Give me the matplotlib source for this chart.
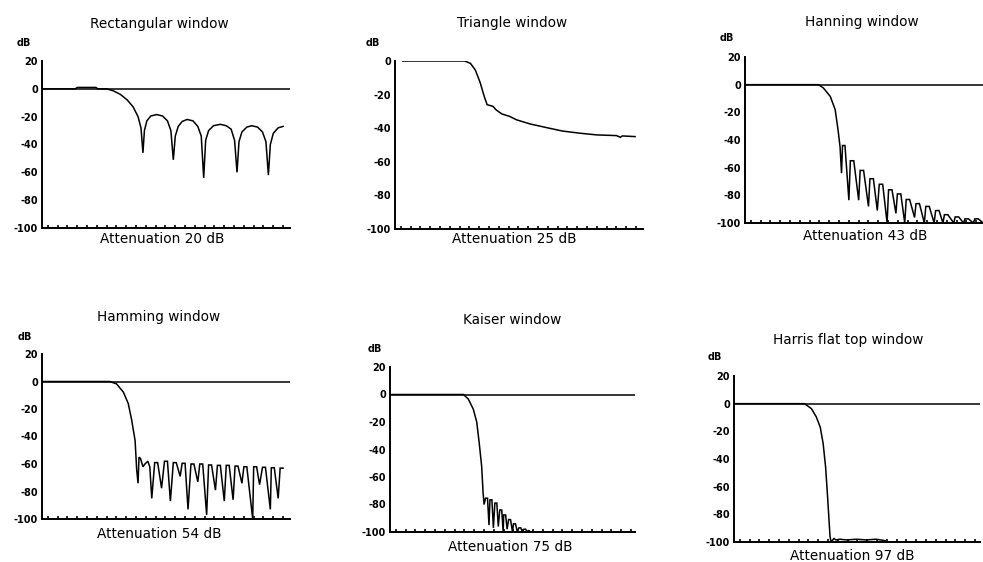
#!/usr/bin/env python3
"""Magnitude response (dB) of six FIR window types, drawn as a 2x3 grid of panels."""

import matplotlib

matplotlib.use("Agg")
import matplotlib.pyplot as plt
import numpy as np

plt.rcParams["axes.unicode_minus"] = False

# --- data (x in tick units along the frequency axis, y in dB) ---

TITLES = [
    "Rectangular window",
    "Triangle window",
    "Hanning window",
    "Hamming window",
    "Kaiser window",
    "Harris flat top window",
]
ATTENUATION_DB = [20, 25, 43, 54, 75, 97]

rect_x = [0, 3.4, 3.6, 5.5, 5.7, 6.6, 7.3, 8.0, 8.7, 9.3, 9.8, 10.1, 10.3,
          10.45, 10.7, 11.1, 11.7, 12.3, 12.8, 13.15, 13.4,
          13.6, 13.9, 14.3, 14.8, 15.4, 15.9, 16.25, 16.5,
          16.7, 17.0, 17.5, 18.2, 18.8, 19.3, 19.65, 19.9,
          20.1, 20.4, 20.9, 21.4, 22.0, 22.5, 22.85, 23.1,
          23.3, 23.6, 24.1, 24.6]
rect_db = [0, 0, 1, 1, 0, 0, -1.5, -4, -8, -13, -20, -28, -46,
           -30, -23, -19.5, -18.5, -19.5, -23, -30, -51,
           -34, -27, -23.5, -22, -23, -27, -34, -64,
           -37, -30, -26.5, -25.5, -26.5, -29, -37, -60,
           -38, -31, -27.5, -26.5, -27.5, -31, -38, -62,
           -40, -32, -28, -27]

tri_x = [0.8, 7.1, 7.7, 8.2, 8.7, 9.1, 9.4, 10.0, 10.3, 10.9, 11.7, 12.4,
         13.8, 15.5, 17.1, 18.9, 20.6, 22.6, 23.0, 23.2, 24.5]
tri_db = [0, 0, -1.4, -5.4, -13, -21, -26, -27, -29, -31.5, -33, -35,
          -37.5, -39.7, -41.7, -43, -44, -44.4, -45.4, -44.6, -45]

hann_x = [0, 7.5, 8.0, 8.7, 9.2, 9.5, 9.7, 9.85,
          9.95, 10.2, 10.6, 10.75, 11.1, 11.6, 11.75, 12.1, 12.6,
          12.75, 13.1, 13.5, 13.7, 14.05, 14.5, 14.65, 15.0, 15.4,
          15.55, 15.9, 16.3, 16.45, 16.8, 17.3, 17.45, 17.8, 18.3,
          18.45, 18.8, 19.3, 19.45, 19.8, 20.2, 20.35, 20.7, 21.3,
          21.45, 21.8, 22.3, 22.45, 22.8, 23.3, 23.45, 23.8, 24.3,
          24.45, 24.8]
hann_db = [0, 0, -2.4, -8.5, -18, -33, -45, -64,
           -44, -44, -83.5, -55, -55, -83.5, -62, -62, -88,
           -68, -68, -91, -72, -72, -100, -76, -76, -93,
           -79, -79, -100, -83, -83, -96, -86, -86, -100,
           -88, -88, -100, -91, -91, -100, -94, -94, -100,
           -95.6, -95.6, -100, -97, -97, -100, -97, -97, -100,
           -97.5, -97.5]

hamm_x = [0, 6.9, 7.6, 8.3, 8.8, 9.15, 9.5, 9.66, 9.8, 9.9, 10.05, 10.3,
          10.5, 10.8, 11.0, 11.2,
          11.5, 11.8, 12.2, 12.5, 12.8, 13.1, 13.4, 13.7, 14.1,
          14.3, 14.6, 14.9, 15.2, 15.5, 15.9, 16.1, 16.4, 16.8,
          17.0, 17.3, 17.7, 17.9, 18.2, 18.6, 18.8, 19.1, 19.5,
          19.7, 20.0, 20.4, 20.6, 20.9, 21.5, 21.6, 21.9, 22.2,
          22.5, 22.8, 23.3, 23.4, 23.7, 24.1, 24.3, 24.6]
hamm_db = [0, 0, -1.7, -7.7, -16, -28, -43, -64, -74, -55, -56, -62,
           -60, -58, -62, -85,
           -59, -59, -77.6, -58, -58, -87, -59, -59, -69,
           -59.5, -59.5, -93, -60, -60, -73, -60, -60, -97,
           -60.7, -60.7, -79, -61, -61, -87, -61, -61, -86,
           -61.5, -61.5, -74, -62, -62, -100, -62, -62, -75,
           -62.4, -62.4, -93, -62.7, -62.7, -85, -63, -63]

kais_x = [0, 7.5, 8.0, 8.5, 8.85, 9.1, 9.35, 9.5, 9.6,
          9.75, 9.95, 10.1, 10.2, 10.4, 10.55, 10.7, 10.9, 11.05,
          11.2, 11.4, 11.55, 11.6, 11.8, 11.95, 12.1, 12.3, 12.5,
          12.6, 12.8, 13.0, 13.15, 13.35, 13.5, 13.65, 13.85, 14.0,
          14.1, 14.2, 14.3]
kais_db = [0, 0, -3.4, -10.7, -20, -35, -52, -71.5, -80,
           -75.4, -75.4, -95, -76.6, -76.6, -97, -79, -79, -96,
           -84, -84, -100, -87.6, -87.6, -98, -91, -91, -100,
           -94, -94, -100, -97, -97, -100, -98, -98, -100,
           -99, -99, -100]

harr_x = [0, 7.2, 7.9, 8.4, 8.8, 9.1, 9.35, 9.55, 9.8, 9.9, 10.2, 10.4,
          10.8, 11.5, 12.5, 13.5, 14.5, 15.4, 15.6]
harr_db = [0, 0, -3.6, -9.6, -17, -29, -46, -67.5, -96, -100, -97.5, -98.5,
           -98, -98.5, -98, -98.5, -98, -99, -100]

SERIES_X = [rect_x, tri_x, hann_x, hamm_x, kais_x, harr_x]
SERIES_DB = [rect_db, tri_db, hann_db, hamm_db, kais_db, harr_db]
Y_TOP = [20, 0, 20, 20, 20, 20]

# --- layout, in reference pixels: axes box (x0, top, x1, bottom), title / dB / caption centres ---

W, H = 983, 562
AXES_BOX = [
    (42, 61, 290, 228),
    (395, 61, 643, 229),
    (745, 57, 990, 223),
    (42, 354, 290, 519),
    (390, 367, 635, 532),
    (734, 376, 980, 542),
]
TITLE_POS = [(159, 24), (512, 23), (862, 22), (159, 317), (512, 320), (848, 340)]
DB_POS = [(24, 43), (373, 43), (727, 38), (25, 337), (375, 349), (715, 357)]
CAPTION_POS = [(162, 239), (514, 239), (865, 236), (159, 534), (510, 547), (852, 556)]

TICK_SPACING_PX = 9.8


def _fig_xy(x: float, y: float) -> tuple[float, float]:
    return x / W, 1 - y / H


def _draw_panel(fig, i: int) -> None:
    x0, top, x1, bot = AXES_BOX[i]
    ax = fig.add_axes([x0 / W, 1 - bot / H, (x1 - x0) / W, (bot - top) / H])
    x_max = (x1 - x0) / TICK_SPACING_PX

    if Y_TOP[i] > 0:
        ax.axhline(0, color="black", linewidth=1.1, zorder=2)
    ax.plot(SERIES_X[i], SERIES_DB[i], color="black", linewidth=1.1,
            solid_joinstyle="miter", zorder=3)

    ax.set_xlim(0, x_max)
    ax.set_ylim(-100, Y_TOP[i])
    ax.set_yticks(np.arange(-100, Y_TOP[i] + 1, 20))
    ax.set_xticks(np.arange(0.6, x_max, 1.0))
    ax.set_xticklabels([])
    ax.tick_params(axis="x", direction="in", length=2.5, width=1.2)
    ax.tick_params(axis="y", length=0, pad=3, labelsize=7)
    for label in ax.get_yticklabels():
        label.set_fontweight("bold")

    for side in ["top", "right"]:
        ax.spines[side].set_visible(False)
    for side in ["left", "bottom"]:
        ax.spines[side].set_linewidth(1.4)
    ax.patch.set_alpha(0)

    fig.text(*_fig_xy(*TITLE_POS[i]), TITLES[i], ha="center", va="center", fontsize=9.8)
    fig.text(*_fig_xy(*DB_POS[i]), "dB", ha="center", va="center", fontsize=7, fontweight="bold")
    fig.text(*_fig_xy(*CAPTION_POS[i]), f"Attenuation {ATTENUATION_DB[i]} dB",
             ha="center", va="center", fontsize=9.8)


def main() -> None:
    fig = plt.figure(figsize=(W / 100, H / 100), dpi=100)
    fig.patch.set_facecolor("white")
    for i in range(len(TITLES)):
        _draw_panel(fig, i)
    fig.savefig("out.png", dpi=100)
    plt.close(fig)


if __name__ == "__main__":
    main()
